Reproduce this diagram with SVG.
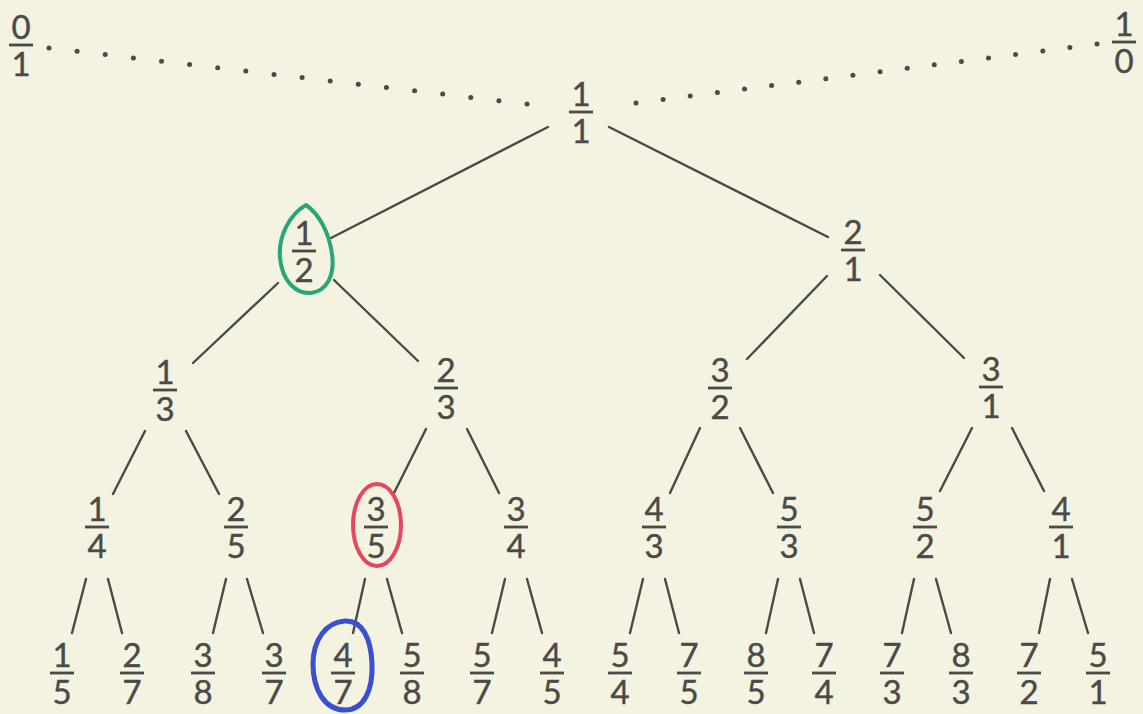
<svg xmlns="http://www.w3.org/2000/svg" width="1143" height="714" viewBox="0 0 1143 714">
<style>
.t{font-family:Lato,"Open Sans","Liberation Sans",sans-serif;font-size:33px;fill:#4a4a46;text-anchor:middle;stroke:#4a4a46;stroke-width:0.4}
.b{fill:#4a4a46}
.e{stroke:#4a4a46;stroke-width:2.4;stroke-linecap:round;fill:none}
.d{fill:#4a4a46}
</style>
<defs>
<rect id="bar" class="b" x="-12" y="-1.4" width="24" height="2.8"/>
</defs>
<rect width="1143" height="714" fill="#f4f2e0"/>
<g id="dots">
<circle class="d" cx="49" cy="48" r="2.5"/><circle class="d" cx="77.1" cy="51.3" r="2.5"/><circle class="d" cx="105.2" cy="54.6" r="2.5"/><circle class="d" cx="133.4" cy="57.9" r="2.5"/><circle class="d" cx="161.5" cy="61.2" r="2.5"/><circle class="d" cx="189.6" cy="64.5" r="2.5"/><circle class="d" cx="217.7" cy="67.8" r="2.5"/><circle class="d" cx="245.8" cy="71.1" r="2.5"/><circle class="d" cx="274" cy="74.4" r="2.5"/><circle class="d" cx="302.1" cy="77.6" r="2.5"/><circle class="d" cx="330.2" cy="80.9" r="2.5"/><circle class="d" cx="358.3" cy="84.2" r="2.5"/><circle class="d" cx="386.4" cy="87.5" r="2.5"/><circle class="d" cx="414.6" cy="90.8" r="2.5"/><circle class="d" cx="442.7" cy="94.1" r="2.5"/><circle class="d" cx="470.8" cy="97.4" r="2.5"/><circle class="d" cx="498.9" cy="100.7" r="2.5"/><circle class="d" cx="527" cy="104" r="2.5"/>
<circle class="d" cx="636" cy="103" r="2.5"/><circle class="d" cx="663.1" cy="99.5" r="2.5"/><circle class="d" cx="690.2" cy="96.1" r="2.5"/><circle class="d" cx="717.4" cy="92.6" r="2.5"/><circle class="d" cx="744.5" cy="89.1" r="2.5"/><circle class="d" cx="771.6" cy="85.6" r="2.5"/><circle class="d" cx="798.7" cy="82.2" r="2.5"/><circle class="d" cx="825.8" cy="78.7" r="2.5"/><circle class="d" cx="852.9" cy="75.2" r="2.5"/><circle class="d" cx="880.1" cy="71.8" r="2.5"/><circle class="d" cx="907.2" cy="68.3" r="2.5"/><circle class="d" cx="934.3" cy="64.8" r="2.5"/><circle class="d" cx="961.4" cy="61.4" r="2.5"/><circle class="d" cx="988.5" cy="57.9" r="2.5"/><circle class="d" cx="1015.6" cy="54.4" r="2.5"/><circle class="d" cx="1042.8" cy="50.9" r="2.5"/><circle class="d" cx="1069.9" cy="47.5" r="2.5"/><circle class="d" cx="1097" cy="44" r="2.5"/>
</g>
<g id="connectors">
<line class="e" x1="548" y1="127" x2="331" y2="238"/>
<line class="e" x1="609" y1="127" x2="828" y2="237"/>
<line class="e" x1="278" y1="283" x2="193" y2="363"/>
<line class="e" x1="334" y1="280" x2="418" y2="361"/>
<line class="e" x1="827" y1="276" x2="747" y2="359"/>
<line class="e" x1="880" y1="275" x2="964" y2="358"/>
<line class="e" x1="145" y1="431" x2="113" y2="494"/>
<line class="e" x1="186" y1="431" x2="219" y2="494"/>
<line class="e" x1="426" y1="429" x2="394" y2="493"/>
<line class="e" x1="467" y1="429" x2="499" y2="493"/>
<line class="e" x1="700" y1="428" x2="670" y2="493"/>
<line class="e" x1="740" y1="428" x2="773" y2="493"/>
<line class="e" x1="972" y1="428" x2="940" y2="491"/>
<line class="e" x1="1012" y1="428" x2="1044" y2="491"/>
<line class="e" x1="86" y1="579" x2="72" y2="633"/>
<line class="e" x1="108" y1="579" x2="122" y2="633"/>
<line class="e" x1="226" y1="579" x2="213" y2="633"/>
<line class="e" x1="247" y1="579" x2="263" y2="633"/>
<line class="e" x1="365" y1="579" x2="353" y2="633"/>
<line class="e" x1="387" y1="579" x2="402" y2="633"/>
<line class="e" x1="505" y1="579" x2="492" y2="633"/>
<line class="e" x1="527" y1="579" x2="542" y2="633"/>
<line class="e" x1="643" y1="579" x2="630" y2="633"/>
<line class="e" x1="665" y1="579" x2="679" y2="633"/>
<line class="e" x1="778" y1="579" x2="766" y2="633"/>
<line class="e" x1="800" y1="579" x2="814" y2="633"/>
<line class="e" x1="914" y1="579" x2="902" y2="633"/>
<line class="e" x1="936" y1="579" x2="951" y2="633"/>
<line class="e" x1="1050" y1="579" x2="1039" y2="633"/>
<line class="e" x1="1072" y1="579" x2="1088" y2="633"/>
</g>
<g id="n0_1" transform="translate(21,45)"><text class="t" y="-6">0</text><use href="#bar"/><text class="t" y="31">1</text></g>
<g id="n1_0" transform="translate(1124,42)"><text class="t" y="-6">1</text><use href="#bar"/><text class="t" y="31">0</text></g>
<g id="n1_1" transform="translate(581,112)"><text class="t" y="-6">1</text><use href="#bar"/><text class="t" y="31">1</text></g>
<g id="n1_2" transform="translate(304,251)"><text class="t" y="-6">1</text><use href="#bar"/><text class="t" y="31">2</text></g>
<g id="n2_1" transform="translate(853,250)"><text class="t" y="-6">2</text><use href="#bar"/><text class="t" y="31">1</text></g>
<g id="n1_3" transform="translate(165,390)"><text class="t" y="-6">1</text><use href="#bar"/><text class="t" y="31">3</text></g>
<g id="n2_3" transform="translate(446,388)"><text class="t" y="-6">2</text><use href="#bar"/><text class="t" y="31">3</text></g>
<g id="n3_2" transform="translate(720,388)"><text class="t" y="-6">3</text><use href="#bar"/><text class="t" y="31">2</text></g>
<g id="n3_1" transform="translate(991,387)"><text class="t" y="-6">3</text><use href="#bar"/><text class="t" y="31">1</text></g>
<g id="n1_4" transform="translate(97,527)"><text class="t" y="-6">1</text><use href="#bar"/><text class="t" y="31">4</text></g>
<g id="n2_5" transform="translate(236,527)"><text class="t" y="-6">2</text><use href="#bar"/><text class="t" y="31">5</text></g>
<g id="n3_5" transform="translate(376,527)"><text class="t" y="-6">3</text><use href="#bar"/><text class="t" y="31">5</text></g>
<g id="n3_4" transform="translate(516,527)"><text class="t" y="-6">3</text><use href="#bar"/><text class="t" y="31">4</text></g>
<g id="n4_3" transform="translate(654,527)"><text class="t" y="-6">4</text><use href="#bar"/><text class="t" y="31">3</text></g>
<g id="n5_3" transform="translate(789,527)"><text class="t" y="-6">5</text><use href="#bar"/><text class="t" y="31">3</text></g>
<g id="n5_2" transform="translate(925,527)"><text class="t" y="-6">5</text><use href="#bar"/><text class="t" y="31">2</text></g>
<g id="n4_1" transform="translate(1061,527)"><text class="t" y="-6">4</text><use href="#bar"/><text class="t" y="31">1</text></g>
<g id="n1_5" transform="translate(62,673)"><text class="t" y="-6">1</text><use href="#bar"/><text class="t" y="31">5</text></g>
<g id="n2_7" transform="translate(132,673)"><text class="t" y="-6">2</text><use href="#bar"/><text class="t" y="31">7</text></g>
<g id="n3_8" transform="translate(203,673)"><text class="t" y="-6">3</text><use href="#bar"/><text class="t" y="31">8</text></g>
<g id="n3_7" transform="translate(274,673)"><text class="t" y="-6">3</text><use href="#bar"/><text class="t" y="31">7</text></g>
<g id="n4_7" transform="translate(343,673)"><text class="t" y="-6">4</text><use href="#bar"/><text class="t" y="31">7</text></g>
<g id="n5_8" transform="translate(412,673)"><text class="t" y="-6">5</text><use href="#bar"/><text class="t" y="31">8</text></g>
<g id="n5_7" transform="translate(482,673)"><text class="t" y="-6">5</text><use href="#bar"/><text class="t" y="31">7</text></g>
<g id="n4_5" transform="translate(552,673)"><text class="t" y="-6">4</text><use href="#bar"/><text class="t" y="31">5</text></g>
<g id="n5_4" transform="translate(620,673)"><text class="t" y="-6">5</text><use href="#bar"/><text class="t" y="31">4</text></g>
<g id="n7_5" transform="translate(689,673)"><text class="t" y="-6">7</text><use href="#bar"/><text class="t" y="31">5</text></g>
<g id="n8_5" transform="translate(756,673)"><text class="t" y="-6">8</text><use href="#bar"/><text class="t" y="31">5</text></g>
<g id="n7_4" transform="translate(824,673)"><text class="t" y="-6">7</text><use href="#bar"/><text class="t" y="31">4</text></g>
<g id="n7_3" transform="translate(892,673)"><text class="t" y="-6">7</text><use href="#bar"/><text class="t" y="31">3</text></g>
<g id="n8_3" transform="translate(961,673)"><text class="t" y="-6">8</text><use href="#bar"/><text class="t" y="31">3</text></g>
<g id="n7_2" transform="translate(1029,673)"><text class="t" y="-6">7</text><use href="#bar"/><text class="t" y="31">2</text></g>
<g id="n5_1" transform="translate(1098,673)"><text class="t" y="-6">5</text><use href="#bar"/><text class="t" y="31">1</text></g>
<g id="highlights" fill="none" stroke-linecap="round" stroke-linejoin="round">
<path d="M306 205 C290 214 278 236 280 258 C282 280 295 294 311 293 C327 291 335 275 332 254 C329 232 319 214 306 205 Z" stroke="#26a679" stroke-width="4"/>
<ellipse cx="377" cy="525" rx="24" ry="41" stroke="#e8465e" stroke-width="4"/>
<path d="M345 621 C326 622 313 640 313 664 C313 690 325 710 345 710 C364 710 373 690 372 664 C371 638 362 620 345 621 Z" stroke="#3a4fd1" stroke-width="5"/>
</g>
</svg>
